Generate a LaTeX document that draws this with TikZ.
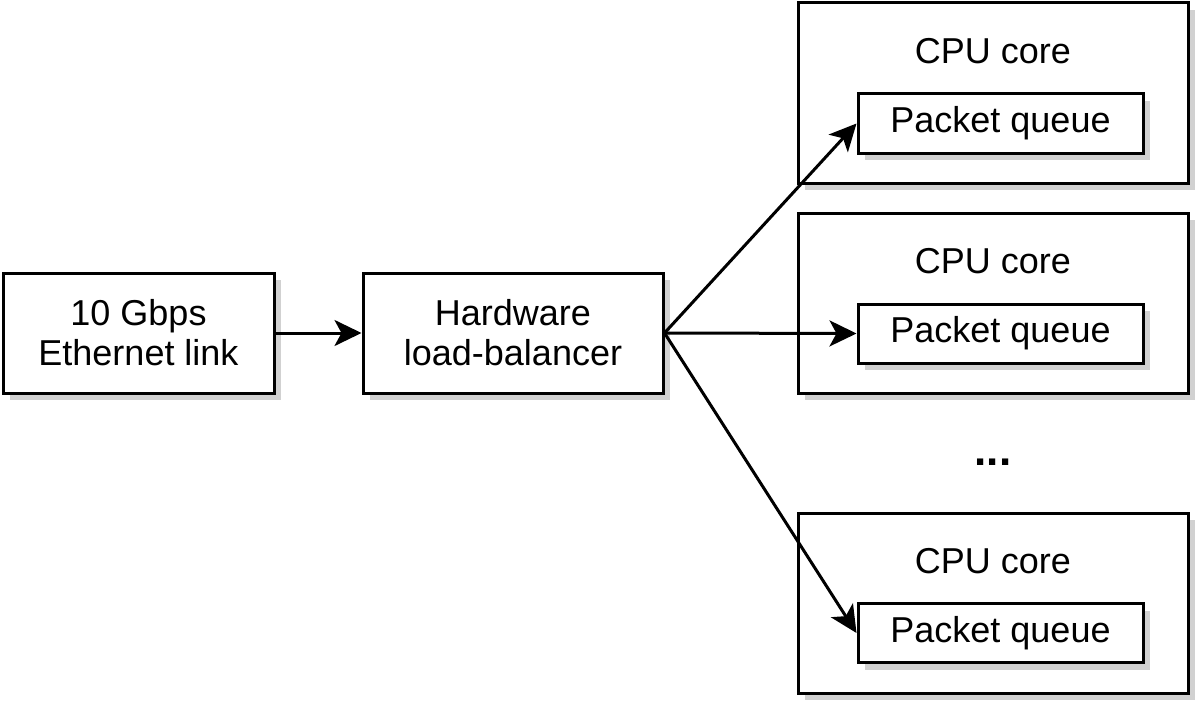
\documentclass[tikz,border=0pt]{standalone}
\usepackage{fontspec}
\setmainfont{Liberation Sans}
\usetikzlibrary{arrows.meta,shadows}
\begin{document}
\begin{tikzpicture}[x=0.5pt,y=-0.5pt,
  box/.style={draw=black, line width=1.5pt, fill=white, inner sep=0pt, align=center,
    font=\fontsize{18}{20}\selectfont,
    drop shadow={shadow xshift=3.5pt, shadow yshift=-3.5pt, opacity=1, fill=black!18}},
  lbl/.style={inner sep=0pt, font=\fontsize{18}{20}\selectfont},
  conn/.style={line width=1.5pt, -{Stealth[length=13.5pt, width=13pt, inset=3.5pt]}}]
\useasboundingbox (0,0) rectangle (1198,706);
\node[box, minimum width=135.5pt, minimum height=60pt] (eth) at (138.5,333) {10 Gbps\\Ethernet link};
\node[box, minimum width=150pt, minimum height=60pt] (lb) at (513,333) {Hardware\\load-balancer};
\node[box, minimum width=195pt, minimum height=90pt] (c1) at (993,93) {};
\node[box, minimum width=195pt, minimum height=90pt] (c2) at (993,303) {};
\node[box, minimum width=195pt, minimum height=90pt] (c3) at (993,603) {};
\node[lbl] (t1) at (993,51) {CPU core};
\node[lbl] (t2) at (993,261) {CPU core};
\node[lbl] (t3) at (993,561) {CPU core};
\node[box, minimum width=142.5pt, minimum height=29.5pt] (q1) at (1000.5,123.5) {Packet queue};
\node[box, minimum width=142.5pt, minimum height=29.5pt] (q2) at (1000.5,333.5) {Packet queue};
\node[box, minimum width=142.5pt, minimum height=29.5pt] (q3) at (1000.5,633) {Packet queue};
\node[lbl, font=\fontsize{22}{24}\selectfont\bfseries] (dots) at (993,462) {...};
\draw[conn] (eth.east) -- (lb.west);
\draw[conn] (lb.east) -- (q1.west);
\draw[conn] (lb.east) -- (q2.west);
\draw[conn] (lb.east) -- (q3.west);
\end{tikzpicture}
\end{document}
